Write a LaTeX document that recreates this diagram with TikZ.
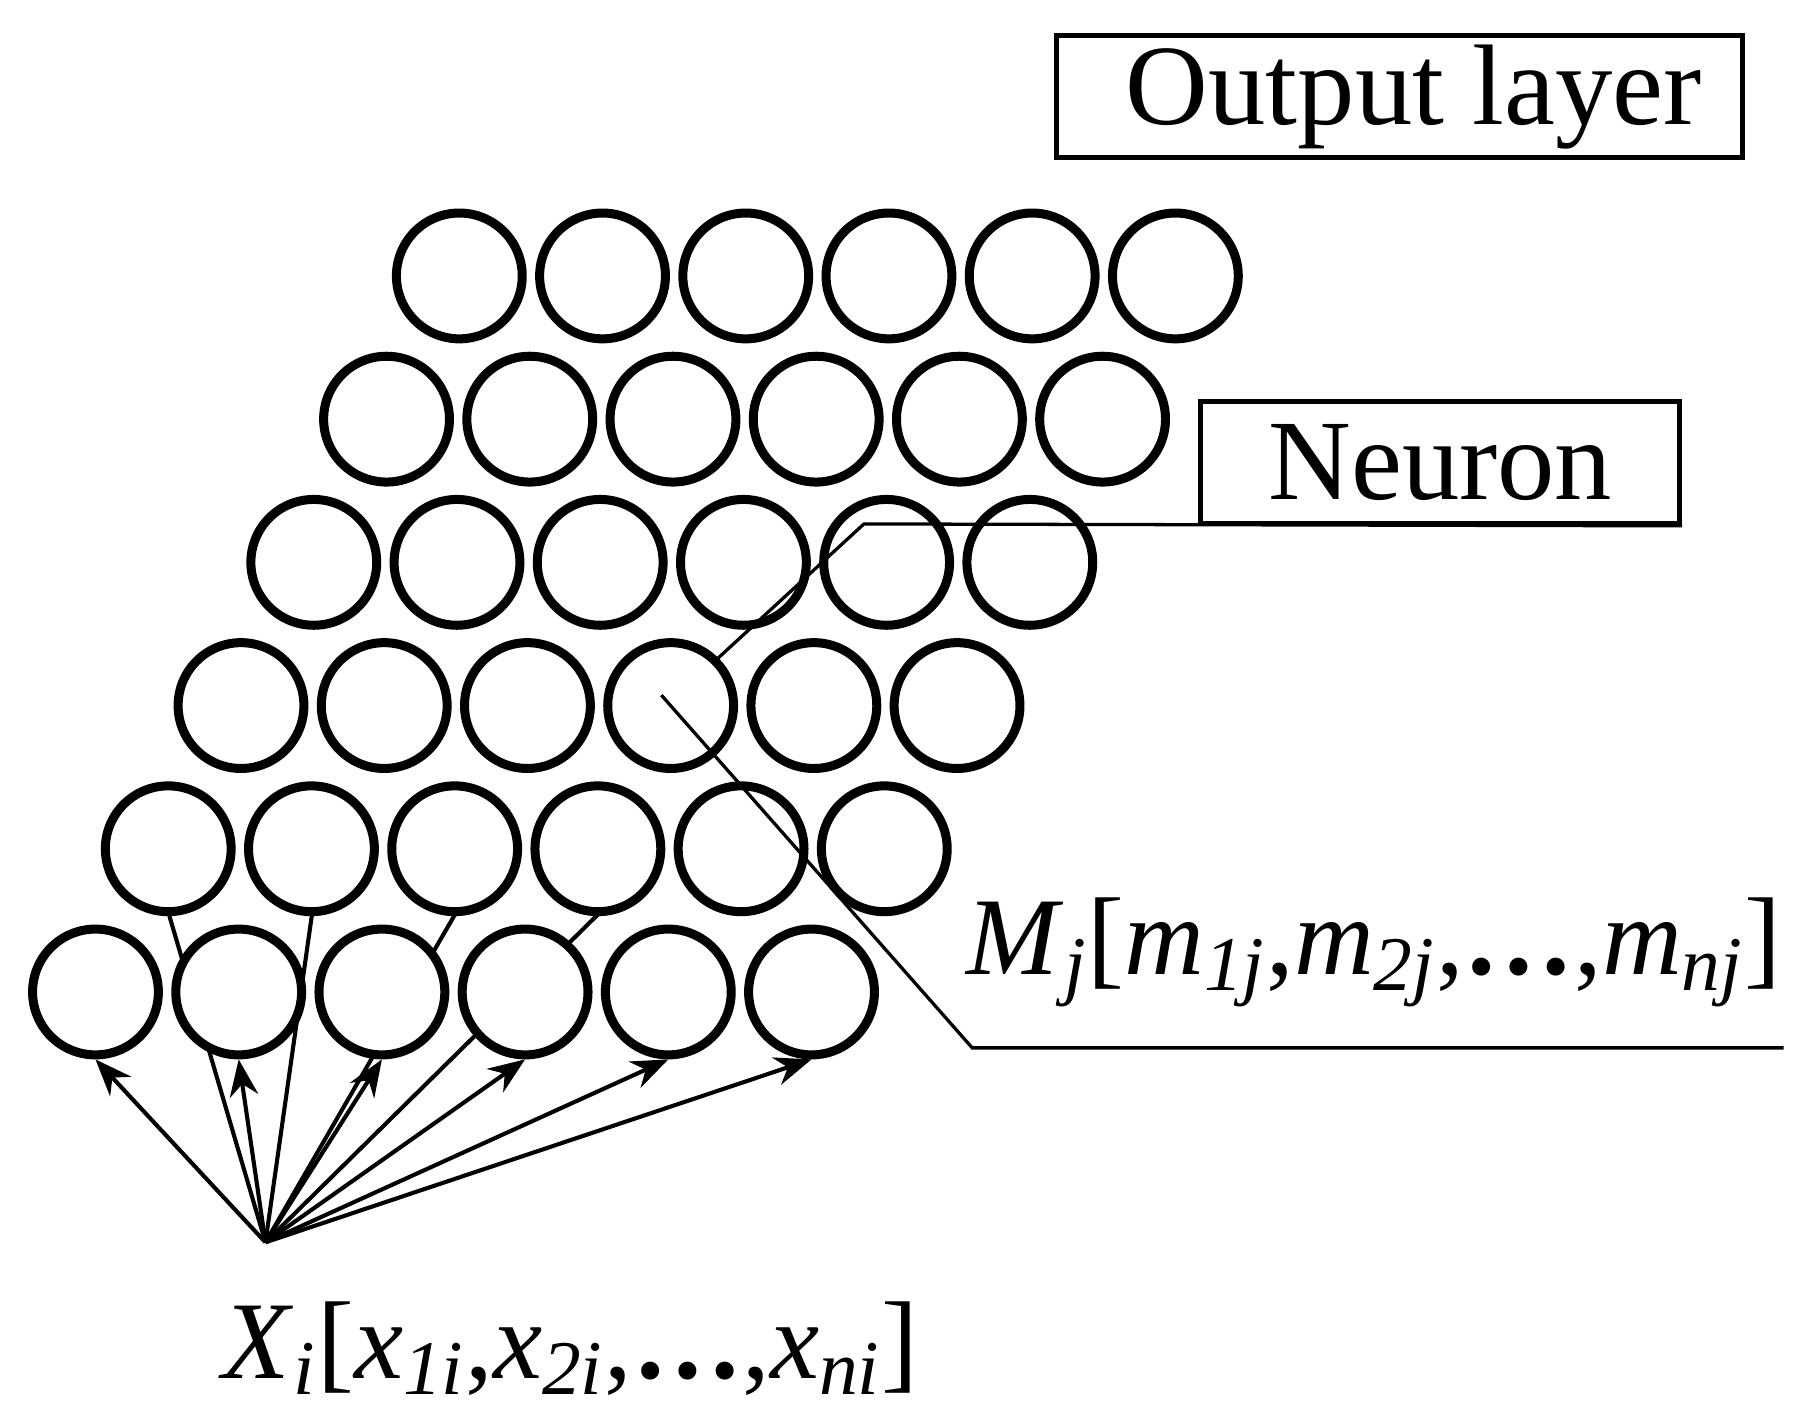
\documentclass[tikz,border=0pt]{standalone}
\usepackage{fontspec}
\setmainfont{Liberation Serif}
\usetikzlibrary{arrows.meta}
\newcommand{\vsub}[2]{\textit{#1}\textsubscript{\textit{#2}}}

\begin{document}
\begin{tikzpicture}[
    x=0.01cm, y=-0.01cm,
    neuron/.style={circle, draw=black, line width=2.2pt, fill=white, minimum size=1.08cm, inner sep=0pt},
    box/.style={draw=black, line width=1.2pt, inner sep=0pt, font=\fontsize{28}{32}\selectfont},
    lead/.style={line width=0.8pt},
    feed/.style={line width=1pt, -{Stealth[length=9pt, width=7pt]}},
    vec/.style={font=\fontsize{27}{32}\selectfont}
]
   \useasboundingbox (0,0) rectangle (1552,1219);

   % input point
   \coordinate (in) at (228,1067);

   % lines to the second row (hidden by the first row)
   \foreach \c in {0,...,3}
      \draw[line width=1pt] (in) -- ({145+123*\c},{728+57});

   % grid of neurons, each row shifted right
   \foreach \r in {0,...,5}
      \foreach \c in {0,...,5}
         \node[neuron] (n\r\c) at ({82+62.5*\r+123*\c},{852-123*\r}) {};

   % arrows into the first row
   \foreach \c in {0,...,5}
      \draw[feed] (in) -- (n0\c.south);

   % labels
   \node[box, minimum width=5.89cm, minimum height=1.05cm] (out) at (1202,83) {\ Output layer};
   \node[box, minimum width=4.11cm, minimum height=1.05cm] (neu) at (1237,397) {Neuron};
   \coordinate (bend) at (742,450);
   \draw[lead] (neu.south east) -- (bend) -- (n23.north east);

   \coordinate (mc) at (568,597);
   \coordinate (mk) at (835,900);
   \coordinate (me) at (1532,900);
   \draw[lead] (mc) -- (mk) -- (me);
   \node[vec] (mlab) at (1180,818) {\vsub{M}{j}[\vsub{m}{1j},\vsub{m}{2j},\textbf{…},\vsub{m}{nj}]};
   \node[vec] (xlab) at (490,1158) {\vsub{X}{i}[\vsub{x}{1i},\vsub{x}{2i},\textbf{…},\vsub{x}{ni}]};
\end{tikzpicture}
\end{document}
